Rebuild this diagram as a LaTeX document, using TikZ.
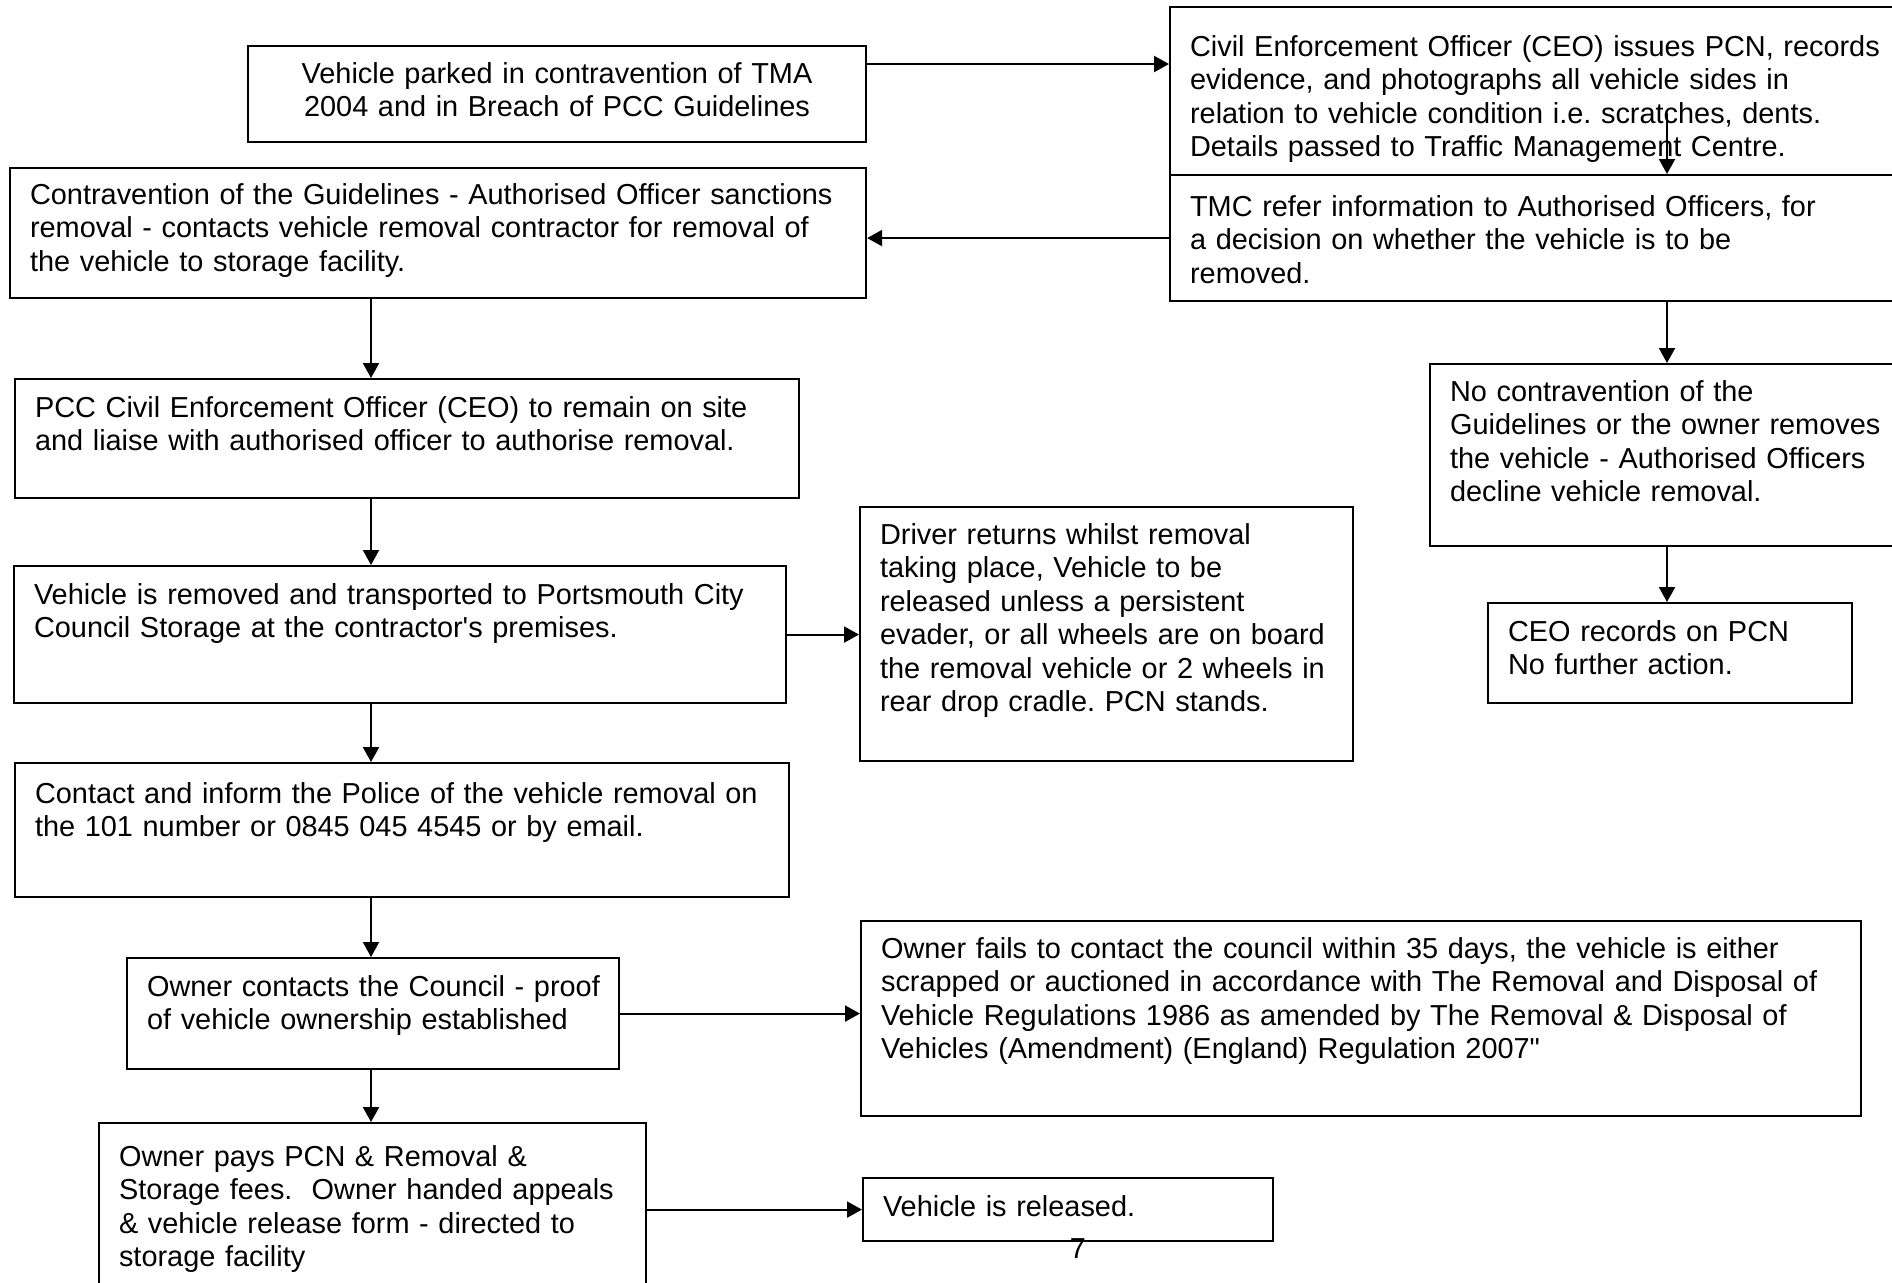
\documentclass[tikz,border=0pt]{standalone}
\usepackage{fontspec}
\setmainfont{Liberation Sans}
\usetikzlibrary{arrows.meta}
\newcommand{\flowfont}{\frenchspacing\fontsize{8.22pt}{9.55pt}\selectfont}
\begin{document}
\begin{tikzpicture}[x=0.1mm, y=-0.1mm,
    box/.style={draw, line width=0.6pt, anchor=north west, inner sep=0pt,
        text height=3.8mm, font=\flowfont,
        execute at begin node={\raggedright\leftskip=2.0mm\relax}},
    arrow/.style={line width=0.6pt, -{Triangle[length=1.5mm,width=1.6mm]}}]
        \useasboundingbox (0,0) rectangle (1892,1282);
        \clip (0,0) rectangle (1892,1282);
        %% Boxes, left column
        \node[box, text width=61.8mm, text height=3.7mm, text depth=5.9mm,
              execute at begin node=\centering] (parked) at (247,45)
            {Vehicle parked in contravention of TMA\\2004 and in Breach of PCC Guidelines};
        \node[box, text width=85.6mm, text height=3.6mm, text depth=9.4mm] (sanction) at (9,167)
            {Contravention of the Guidelines - Authorised Officer sanctions\\removal - contacts vehicle removal contractor for removal of\\the vehicle to storage facility.};
        \node[box, text width=78.4mm, text depth=8.1mm] (onsite) at (14,378)
            {PCC Civil Enforcement Officer (CEO) to remain on site\\and liaise with authorised officer to authorise removal.};
        \node[box, text width=77.2mm, text depth=9.9mm] (removed) at (13,565)
            {Vehicle is removed and transported to Portsmouth City\\Council Storage at the contractor\textquotesingle s premises.};
        \node[box, text width=77.4mm, text height=4.0mm, text depth=9.4mm] (police) at (14,762)
            {Contact and inform the Police of the vehicle removal on\\the 101 number or 0845 045 4545 or by email.};
        \node[box, text width=49.2mm, text depth=7.3mm] (owner) at (126,957)
            {Owner contacts the Council - proof\\of vehicle ownership established};
        \node[box, text width=54.7mm, text height=4.3mm, text depth=15.7mm] (pays) at (98,1122)
            {Owner pays PCN \& Removal \&\\Storage fees.\ \ Owner handed appeals\\\& vehicle release form - directed to\\storage facility};
        %% Boxes, right side
        \node[box, text width=76mm, text height=4.9mm, text depth=11.9mm] (issues) at (1169,6)
            {Civil Enforcement Officer (CEO) issues PCN, records\\evidence, and photographs all vehicle sides in\\relation to vehicle condition i.e. scratches, dents.\\Details passed to Traffic Management Centre.};
        \node[box, text width=76mm, text height=4.1mm, text depth=8.5mm] (tmc) at (1169,174)
            {TMC refer information to Authorised Officers, for\\a decision on whether the vehicle is to be\\removed.};
        \node[box, text width=50mm, text height=3.7mm, text depth=14.5mm] (decline) at (1429,363)
            {No contravention of the\\Guidelines or the owner removes\\the vehicle - Authorised Officers\\decline vehicle removal.};
        \node[box, text width=36.4mm, text depth=6.2mm] (records) at (1487,602)
            {CEO records on PCN\\No further action.};
        \node[box, text width=49.3mm, text height=3.7mm, text depth=21.7mm] (driver) at (859,506)
            {Driver returns whilst removal\\taking place, Vehicle to be\\released unless a persistent\\evader, or all wheels are on board\\the removal vehicle or 2 wheels in\\rear drop cradle. PCN stands.};
        \node[box, text width=100mm, text height=3.7mm, text depth=15.8mm] (fails) at (860,920)
            {Owner fails to contact the council within 35 days, the vehicle is either\\scrapped or auctioned in accordance with The Removal and Disposal of\\Vehicle Regulations 1986 as amended by The Removal \& Disposal of\\Vehicles (Amendment) (England) Regulation 2007\textquotedbl};
        \node[box, text width=41mm, text depth=2.5mm] (released) at (862,1177)
            {Vehicle is released.};
        \node[font=\flowfont, inner sep=0pt] (pagenum) at (1078,1249) {7};
        %% Arrows
        \coordinate (spine)  at (371,0);
        \coordinate (spineR) at (1667,0);
        \coordinate (row1)   at (0,64);
        \coordinate (drop)   at (1667,113);
        \draw[arrow] (parked.east |- row1) -- (issues.west |- row1);
        \draw[arrow] (drop) -- (tmc.north -| drop);
        \draw[arrow] (tmc.west) -- (sanction.east |- tmc.west);
        \draw[arrow] (sanction.south -| spine) -- (onsite.north -| spine);
        \draw[arrow] (onsite.south -| spine) -- (removed.north -| spine);
        \draw[arrow] (removed.south -| spine) -- (police.north -| spine);
        \draw[arrow] (police.south -| spine) -- (owner.north -| spine);
        \draw[arrow] (owner.south -| spine) -- (pays.north -| spine);
        \draw[arrow] (removed.east) -- (driver.west |- removed.east);
        \draw[arrow] (owner.east) -- (fails.west |- owner.east);
        \draw[arrow] (pays.east |- released.west) -- (released.west);
        \draw[arrow] (tmc.south -| spineR) -- (decline.north -| spineR);
        \draw[arrow] (decline.south -| spineR) -- (records.north -| spineR);
    \end{tikzpicture}
\end{document}
